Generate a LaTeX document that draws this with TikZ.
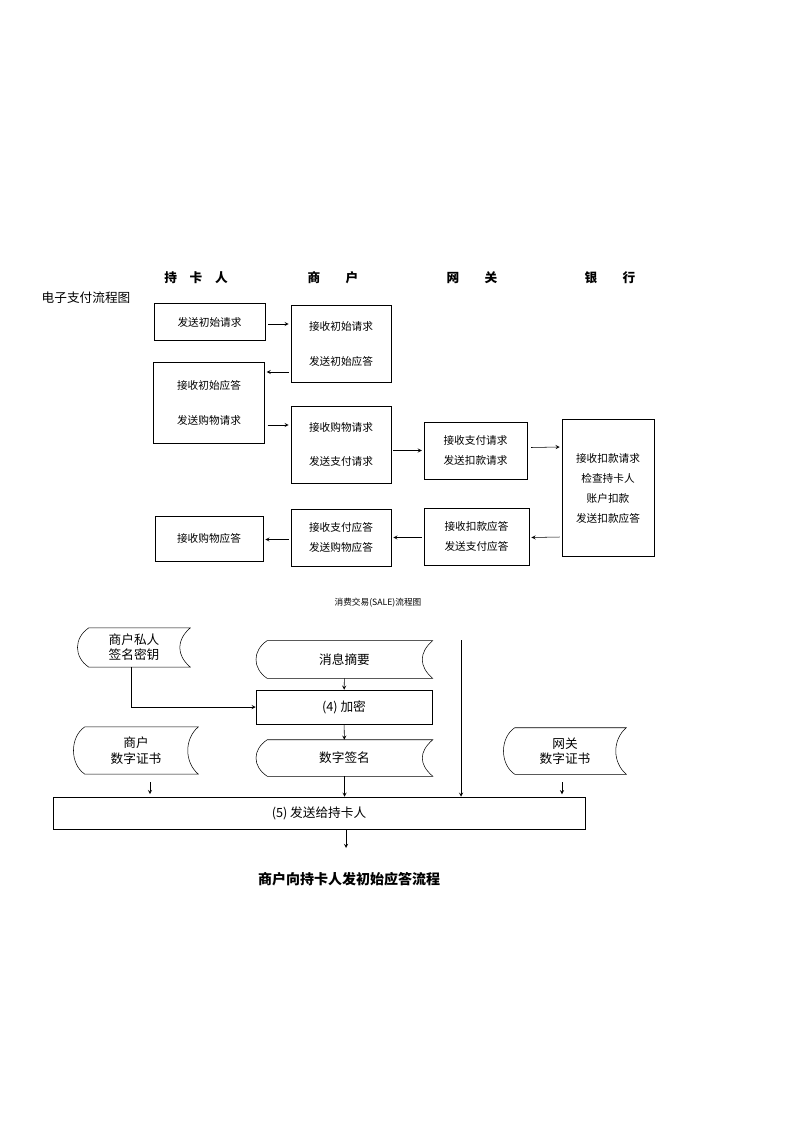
\documentclass[tikz,border=0pt]{standalone}
\usepackage{fontspec}
\newfontfamily\cjk{Noto Sans CJK SC}
\usetikzlibrary{arrows, positioning, calc}

\begin{document}
\begin{tikzpicture}[
    x=0.75pt, y=-0.75pt,
    box/.style={draw, inner sep=0pt, font=\cjk\fontsize{8}{10}\selectfont, align=center},
    bigbox/.style={draw, inner sep=0pt, font=\cjk\fontsize{9.5}{12}\selectfont},
    store/.style={inner sep=0pt, font=\cjk\fontsize{9.5}{11.5}\selectfont, align=center},
    head/.style={font=\cjk\bfseries\fontsize{9.5}{11}\selectfont},
    arrow/.style={->,>=stealth}
]
\useasboundingbox (0,0) rectangle (794,1123);

% headers
\node[head] (hcard) at (196,278) {持\quad 卡\quad 人};
\node[head] (hshop) at (333,278) {商\qquad 户};
\node[head] (hgate) at (472,278) {网\qquad 关};
\node[head] (hbank) at (610,278) {银\qquad 行};
\node[font=\cjk\fontsize{9.5}{11}\selectfont] (title) at (86,298) {电子支付流程图};

% sale flow
\node[box, minimum width=83pt, minimum height=28pt] (a1) at (209.5,322) {发送初始请求};
\node[box, minimum width=75pt, minimum height=58pt] (m1) at (341,344) {接收初始请求\\[16pt]发送初始应答};
\node[box, minimum width=83pt, minimum height=61pt] (a2) at (209,403) {接收初始应答\\[16pt]发送购物请求};
\node[box, minimum width=75pt, minimum height=58pt] (m2) at (341,444.5) {接收购物请求\\[16pt]发送支付请求};
\node[box, minimum width=77pt, minimum height=43pt] (g1) at (475.5,450.5) {接收支付请求\\[5pt]发送扣款请求};
\node[box, minimum width=69pt, minimum height=103pt] (b1) at (608,488) {接收扣款请求\\[5pt]检查持卡人\\[5pt]账户扣款\\[5pt]发送扣款应答};
\node[box, minimum width=81pt, minimum height=34pt] (a3) at (209,538.5) {接收购物应答};
\node[box, minimum width=75pt, minimum height=43pt] (m3) at (341,537.5) {接收支付应答\\[5pt]发送购物应答};
\node[box, minimum width=79pt, minimum height=43pt] (g2) at (476.5,536.5) {接收扣款应答\\[5pt]发送支付应答};
\node[font=\cjk\fontsize{6.5}{8}\selectfont] (cap1) at (378,603) {消费交易(SALE)流程图};

\draw[arrow] ($(a1.east)+(3,2)$) -- ($(m1.west)+(-2,-20)$);
\draw[arrow] ($(m1.west)+(-2,28)$) -- ($(a2.east)+(2,-31)$);
\draw[arrow] ($(a2.east)+(3,22)$) -- ($(m2.west)+(-2,-19.5)$);
\draw[arrow] ($(m2.east)+(2,6)$) -- ($(g1.west)+(-2,0)$);
\draw[arrow] ($(g1.east)+(4,-3)$) -- ($(b1.west)+(-2,-41)$);
\draw[arrow] ($(b1.west)+(-2,49)$) -- ($(g2.east)+(2,1)$);
\draw[arrow] ($(g2.west)+(-2,1)$) -- ($(m3.east)+(2,0)$);
\draw[arrow] ($(m3.west)+(-2,2)$) -- ($(a3.east)+(2,1)$);

% signing flow
\node[store, minimum width=84pt, minimum height=29pt] (key) at (134,647.5) {商户私人\\签名密钥};
\node[store, minimum width=132pt, minimum height=28pt] (digest) at (344.5,659.5) {消息摘要};
\node[bigbox, minimum width=132pt, minimum height=25.5pt] (enc) at (344,707) {(4)\ 加密};
\node[store, minimum width=132pt, minimum height=27pt] (sig) at (344.5,758) {数字签名};
\node[store, minimum width=93pt, minimum height=35pt] (mcert) at (136,750.5) {商户\\数字证书};
\node[store, minimum width=91.5pt, minimum height=34.5pt] (gcert) at (565,751) {网关\\数字证书};
\node[bigbox, minimum width=399pt, minimum height=24pt] (send) at (319,813) {(5)\ 发送给持卡人};
\coordinate (top) at (461,640);
\coordinate (out) at (346,848);
\node[font=\cjk\bfseries\fontsize{10.5}{12}\selectfont] (cap2) at (349,879) {商户向持卡人发初始应答流程};

\foreach \n in {key,digest,sig,mcert,gcert}
  \draw ($(\n.north west)+(11,0)$) -- (\n.north east)
    .. controls +(-14,12) and +(-14,-12) .. (\n.south east)
    -- ($(\n.south west)+(11,0)$)
    .. controls +(-15,-10) and +(-15,10) .. cycle;

\draw[arrow] (digest) -- (enc);
\draw[arrow] (enc) -- (sig);
\draw[arrow] (sig) -- (sig |- send.north);
\draw[arrow] ($(key.south west)+(54,0)$) |- (enc.west);
\draw[arrow] ($(mcert.south)+(14,8)$) -- ($(mcert.south)+(14,20)$);
\draw[arrow] ($(gcert.south)+(-3,8)$) -- ($(gcert.south)+(-3,20)$);
\draw[arrow] (top) -- (top |- send.north);
\draw[arrow] (send.south -| out) -- (out);
\end{tikzpicture}
\end{document}
